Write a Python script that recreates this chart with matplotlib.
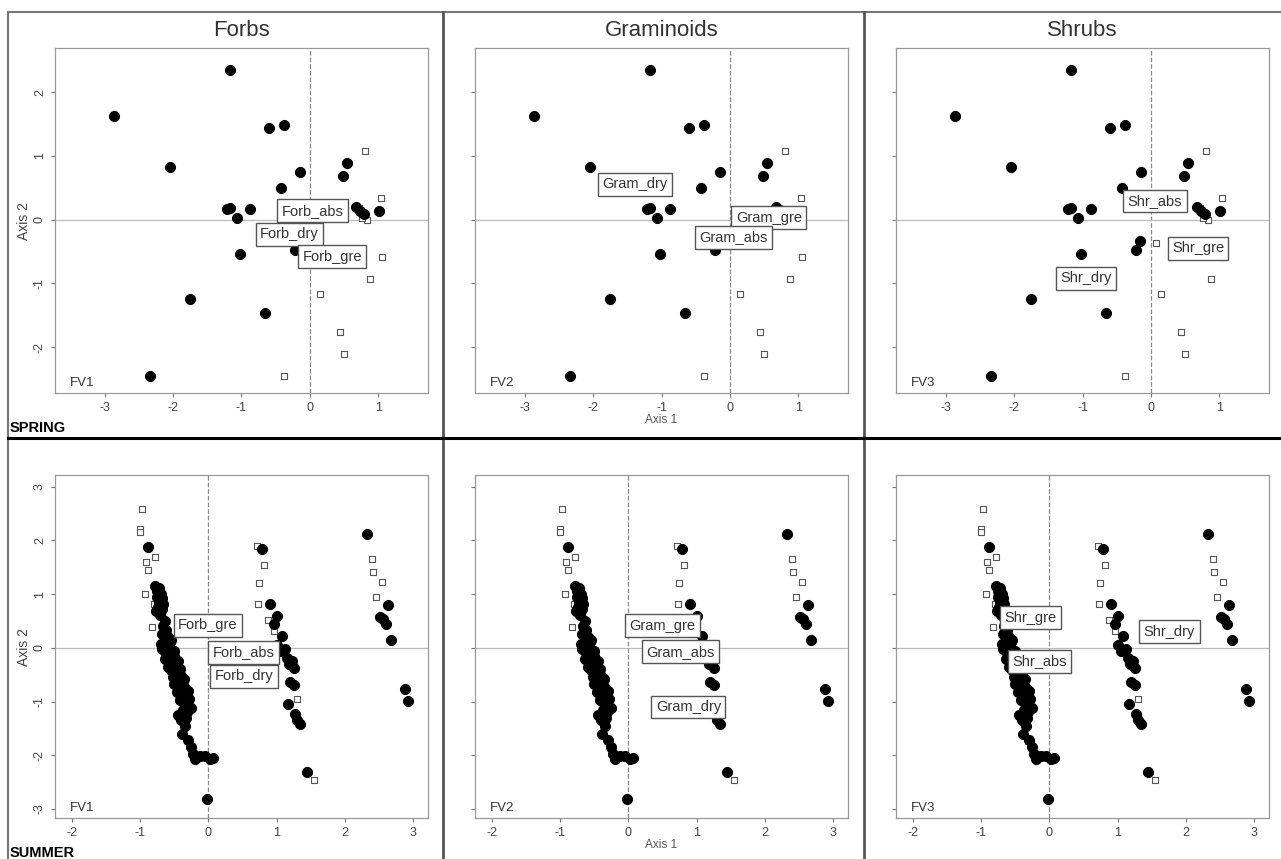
import numpy as np
import matplotlib
matplotlib.use('Agg')
import matplotlib.pyplot as plt
from matplotlib.lines import Line2D

plt.rcParams['font.family'] = ['Liberation Sans', 'DejaVu Sans']
plt.rcParams['axes.unicode_minus'] = False

# Spring scores (axis 1, axis 2)
spring_dot_x = [-1.17, -2.86, -0.60, -0.38, -2.04, -0.15, 0.54, 0.49, -0.42, -1.21, -1.17,
                -1.06, -0.88, 0.67, 0.74, 0.79, 1.01, -1.02, -1.76, -0.65, -2.34, -0.16, -0.21]
spring_dot_y = [2.34, 1.62, 1.43, 1.49, 0.83, 0.74, 0.89, 0.68, 0.49, 0.17, 0.18,
                0.03, 0.16, 0.19, 0.14, 0.09, 0.13, -0.54, -1.25, -1.46, -2.45, -0.33, -0.47]
spring_sq_x = [0.81, 1.04, 0.84, 0.76, 0.72, 1.05, 0.88, 0.15, 0.44, 0.50, -0.38, 0.08]
spring_sq_y = [1.07, 0.33, -0.01, 0.03, 0.18, -0.58, -0.94, -1.16, -1.76, -2.11, -2.45, -0.37]

# Summer scores
summer_dot_x = [-0.88, -0.78, -0.72, -0.75, -0.70, -0.76, -0.68, -0.73, -0.66, -0.74, -0.68, -0.77, -0.71,
                -0.64, -0.67, -0.62, -0.68, -0.60, -0.55, -0.70, -0.64, -0.58, -0.68, -0.62, -0.55,
                -0.50, -0.64, -0.58, -0.52, -0.45, -0.60, -0.55, -0.48, -0.42, -0.52, -0.45, -0.38,
                -0.50, -0.42, -0.35, -0.46, -0.40, -0.33, -0.42, -0.36, -0.30, -0.38, -0.32, -0.40,
                -0.33, -0.39, -0.30, -0.25, -0.22, -0.20, -0.12, -0.05, 0.02, 0.06, -0.02,
                -0.57, -0.50, -0.46, -0.40, -0.36, -0.30, -0.28, -0.26, -0.35, -0.44,
                0.79, 0.91, 1.00, 0.96, 1.08, 1.00, 1.05, 1.13, 1.15, 1.22, 1.25, 1.18, 1.20, 1.26,
                1.17, 1.27, 1.34, 1.30, 1.44,
                2.32, 2.63, 2.51, 2.56, 2.61, 2.68, 2.88, 2.93]
summer_dot_y = [1.87, 1.15, 1.12, 1.05, 1.00, 0.95, 0.93, 0.86, 0.82, 0.76, 0.72, 0.68, 0.62,
                0.50, 0.40, 0.33, 0.25, 0.20, 0.15, 0.08, 0.05, 0.00, -0.03, -0.10, -0.08,
                -0.15, -0.20, -0.25, -0.30, -0.25, -0.35, -0.42, -0.45, -0.40, -0.55, -0.60, -0.62,
                -0.68, -0.75, -0.75, -0.82, -0.88, -0.90, -0.98, -1.02, -1.08, -1.15, -1.20, -1.35,
                -1.30, -1.60, -1.72, -1.85, -1.97, -2.07, -2.01, -2.01, -2.07, -2.05, -2.81,
                0.10, -0.05, -0.35, -0.52, -0.58, -0.80, -0.95, -1.12, -1.45, -1.25,
                1.84, 0.82, 0.60, 0.44, 0.22, 0.06, -0.06, -0.03, -0.19, -0.25, -0.38, -0.30, -0.63, -0.70,
                -1.04, -1.23, -1.42, -1.35, -2.31,
                2.13, 0.79, 0.58, 0.53, 0.45, 0.15, -0.76, -0.99]
summer_sq_x = [-0.98, -1.01, -1.01, -0.78, -0.91, -0.88, -0.93, -0.80, -0.83,
               0.71, 0.81, 0.74, 0.72, 0.88, 0.96, 1.30, 1.55,
               2.40, 2.42, 2.55, 2.46]
summer_sq_y = [2.58, 2.22, 2.16, 1.69, 1.60, 1.45, 1.01, 0.82, 0.39,
               1.90, 1.55, 1.20, 0.82, 0.51, 0.32, -0.95, -2.47,
               1.66, 1.41, 1.23, 0.95]

# Group centroids shown as boxed labels
groups = ['Forbs', 'Graminoids', 'Shrubs']
panel_tags = ['FV1', 'FV2', 'FV3']
spring_labels = [
    [('Forb_abs', 0.04, 0.14), ('Forb_dry', -0.30, -0.23), ('Forb_gre', 0.33, -0.58)],
    [('Gram_dry', -1.39, 0.55), ('Gram_gre', 0.57, 0.03), ('Gram_abs', 0.05, -0.28)],
    [('Shr_abs', 0.06, 0.29), ('Shr_gre', 0.69, -0.45), ('Shr_dry', -0.95, -0.92)],
]
summer_labels = [
    [('Forb_gre', -0.01, 0.42), ('Forb_abs', 0.51, -0.08), ('Forb_dry', 0.52, -0.53)],
    [('Gram_gre', 0.50, 0.41), ('Gram_abs', 0.76, -0.07), ('Gram_dry', 0.88, -1.10)],
    [('Shr_gre', -0.28, 0.56), ('Shr_abs', -0.15, -0.25), ('Shr_dry', 1.76, 0.30)],
]
spring_ticks = [-3, -2, -1, 0, 1]
spring_yticks = [-2, -1, 0, 1, 2]
summer_ticks = [-2, -1, 0, 1, 2, 3]
summer_yticks = [-3, -2, -1, 0, 1, 2, 3]


def draw_panel(ax, dots, squares, labels, tag, xlim, ylim, xticks, yticks, show_ylabels):
    ax.axvline(0, color='#888888', lw=0.9, ls='--', zorder=1)
    ax.axhline(0, color='#bbbbbb', lw=0.9, zorder=1)
    ax.plot(squares[0], squares[1], 's', ms=5, mfc='white', mec='#555555', mew=0.8, ls='none', zorder=2)
    ax.plot(dots[0], dots[1], 'o', ms=7, color='black', ls='none', zorder=3)
    for name, lx, ly in labels:
        ax.text(lx, ly, name, ha='center', va='center', fontsize=10.5, color='#333333', zorder=5,
                bbox=dict(boxstyle='square,pad=0.3', fc='white', ec='#555555', lw=1.0))
    ax.text(0.04, 0.012, tag, transform=ax.transAxes, fontsize=9.5, color='#333333', va='bottom')
    ax.set_xlim(xlim)
    ax.set_ylim(ylim)
    ax.set_xticks(xticks)
    ax.set_yticks(yticks)
    ax.tick_params(labelsize=9, labelcolor='#444444', color='#777777', length=3, width=0.8)
    if show_ylabels:
        ax.set_yticklabels([str(t) for t in yticks], rotation=90, va='center')
    else:
        ax.set_yticklabels([])
    for s in ax.spines.values():
        s.set_color('#999999')
        s.set_linewidth(0.9)


fig = plt.figure(figsize=(12.81, 8.59), dpi=100)
W, H = 1281.0, 859.0
col_left = [55, 475, 896]
ax_w = 373

for c in range(3):
    # top row: spring
    ax = fig.add_axes([col_left[c] / W, 1 - 393 / H, ax_w / W, 345 / H])
    draw_panel(ax, (spring_dot_x, spring_dot_y), (spring_sq_x, spring_sq_y), spring_labels[c],
               panel_tags[c], (-3.73, 1.73), (-2.72, 2.69), spring_ticks, spring_yticks, c == 0)
    if c == 0:
        ax.set_ylabel('Axis 2', fontsize=10, color='#444444', labelpad=2)
    if c == 1:
        ax.set_xlabel('Axis 1', fontsize=8.5, color='#555555', labelpad=0)

    # bottom row: summer
    ax = fig.add_axes([col_left[c] / W, 1 - 818 / H, ax_w / W, 343 / H])
    draw_panel(ax, (summer_dot_x, summer_dot_y), (summer_sq_x, summer_sq_y), summer_labels[c],
               panel_tags[c], (-2.25, 3.22), (-3.17, 3.22), summer_ticks, summer_yticks, c == 0)
    if c == 0:
        ax.set_ylabel('Axis 2', fontsize=10, color='#444444', labelpad=2)
    if c == 1:
        ax.set_xlabel('Axis 1', fontsize=8.5, color='#555555', labelpad=0)

    fig.text((col_left[c] + ax_w / 2) / W, 1 - 30 / H, groups[c], ha='center', va='center',
             fontsize=16, color='#333333')

fig.text(10 / W, 1 - 428 / H, 'SPRING', fontsize=10.5, fontweight='bold', va='center')
fig.text(10 / W, 1 - 853 / H, 'SUMMER', fontsize=10.5, fontweight='bold', va='center')

# cell borders
fig.add_artist(Line2D([8 / W, 1], [1 - 12 / H, 1 - 12 / H], color='#777777', lw=1.5))
fig.add_artist(Line2D([8 / W, 8 / W], [0, 1 - 12 / H], color='#777777', lw=1.5))
for xs in [443, 864]:
    fig.add_artist(Line2D([xs / W, xs / W], [0, 1 - 12 / H], color='#555555', lw=2))
fig.add_artist(Line2D([8 / W, 1], [1 - 438 / H, 1 - 438 / H], color='black', lw=2.2))

fig.savefig('out.png', dpi=100)
